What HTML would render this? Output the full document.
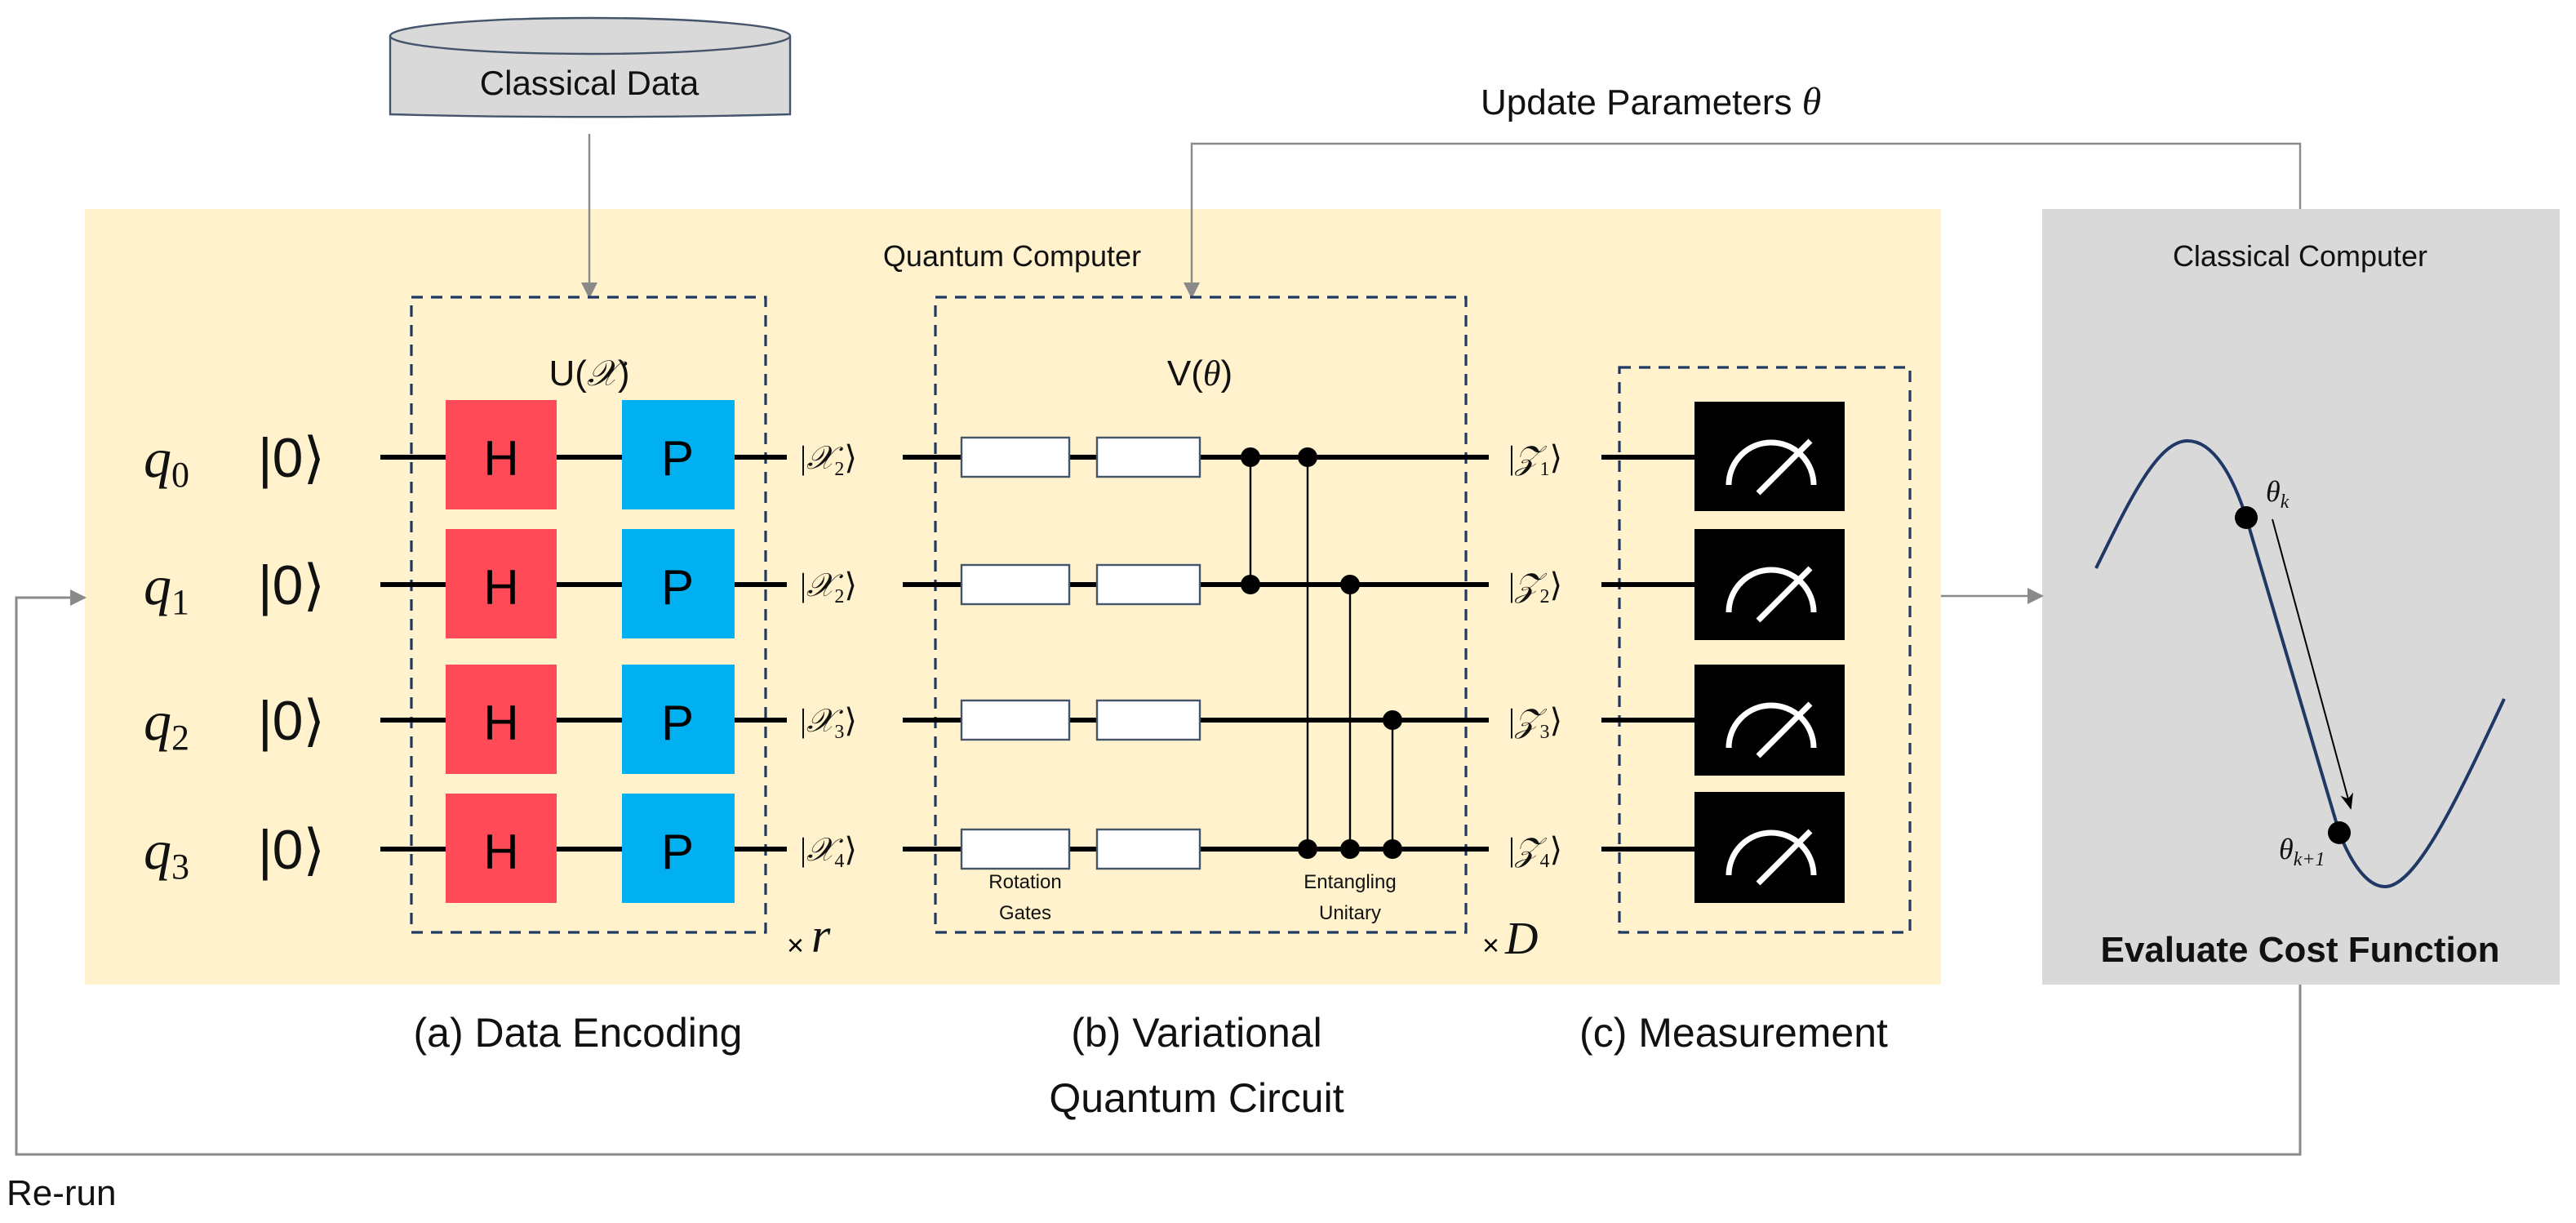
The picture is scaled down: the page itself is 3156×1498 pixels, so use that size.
<!DOCTYPE html>
<html><head><meta charset="utf-8"><style>
html,body{margin:0;padding:0;background:#fff;}
svg{display:block;}
.t{font-family:"Liberation Sans",sans-serif;fill:#111;}
.m{font-family:"Liberation Serif",serif;font-style:italic;fill:#111;}
</style></head><body>
<svg width="3156" height="1498" viewBox="0 0 1578 749" xmlns="http://www.w3.org/2000/svg">
<defs>
<marker id="ga" markerWidth="10" markerHeight="10" refX="9" refY="5" orient="auto" markerUnits="userSpaceOnUse"><path d="M0,0 L10,5 L0,10 z" fill="#8a8a8a"/></marker>
<marker id="ba" markerWidth="10" markerHeight="10" refX="9" refY="5" orient="auto" markerUnits="userSpaceOnUse"><path d="M0,1 L10,5 L0,9 L3,5 z" fill="#000"/></marker>
</defs>
<rect x="52" y="128" width="1137" height="475" fill="#FFF2CC"/>
<rect x="1251" y="128" width="317" height="475" fill="#D9D9D9"/>
<path d="M239,22 L239,70 A245,12 0 0 0 484,70 L484,22" fill="#D9D9D9" stroke="#44546A" stroke-width="1.2"/>
<ellipse cx="361.5" cy="22" rx="122.5" ry="11" fill="#D9D9D9" stroke="#44546A" stroke-width="1.2"/>
<text class="t" x="361" y="58" font-size="21" text-anchor="middle">Classical Data</text>
<line x1="361" y1="82" x2="361" y2="182" stroke="#8a8a8a" stroke-width="1.2" marker-end="url(#ga)"/>
<polyline points="1409,128 1409,88 730,88 730,182" fill="none" stroke="#8a8a8a" stroke-width="1.2" marker-end="url(#ga)"/>
<text class="t" x="907" y="70" font-size="22">Update Parameters <tspan class="m" font-size="24">θ</tspan></text>
<text class="t" x="620" y="163" font-size="18" text-anchor="middle">Quantum Computer</text>
<text class="t" x="1409" y="163" font-size="18" text-anchor="middle">Classical Computer</text>
<g fill="none" stroke="#1F3864" stroke-width="1.6" stroke-dasharray="7,5">
<rect x="252" y="182" width="217" height="389"/>
<rect x="573" y="182" width="325" height="389"/>
<rect x="992" y="225" width="178" height="346"/>
</g>
<text class="t" x="361" y="236" font-size="22" text-anchor="middle">U(<tspan class="m">𝒳</tspan>)</text>
<text class="t" x="735" y="236" font-size="22" text-anchor="middle">V(<tspan class="m">θ</tspan>)</text>
<g stroke="#000" stroke-width="3">
<line x1="233" y1="280" x2="482" y2="280"/><line x1="553" y1="280" x2="912" y2="280"/><line x1="981" y1="280" x2="1038" y2="280"/>
<line x1="233" y1="358" x2="482" y2="358"/><line x1="553" y1="358" x2="912" y2="358"/><line x1="981" y1="358" x2="1038" y2="358"/>
<line x1="233" y1="441" x2="482" y2="441"/><line x1="553" y1="441" x2="912" y2="441"/><line x1="981" y1="441" x2="1038" y2="441"/>
<line x1="233" y1="520" x2="482" y2="520"/><line x1="553" y1="520" x2="912" y2="520"/><line x1="981" y1="520" x2="1038" y2="520"/>
</g>
<g font-family="Liberation Sans,sans-serif" font-size="30" text-anchor="middle" fill="#000">
<rect x="273" y="245" width="68" height="67" fill="#FF4B57"/><rect x="381" y="245" width="69" height="67" fill="#00B0F0"/>
<rect x="273" y="324" width="68" height="67" fill="#FF4B57"/><rect x="381" y="324" width="69" height="67" fill="#00B0F0"/>
<rect x="273" y="407" width="68" height="67" fill="#FF4B57"/><rect x="381" y="407" width="69" height="67" fill="#00B0F0"/>
<rect x="273" y="486" width="68" height="67" fill="#FF4B57"/><rect x="381" y="486" width="69" height="67" fill="#00B0F0"/>
<text x="307" y="291">H</text><text x="415" y="291">P</text>
<text x="307" y="370">H</text><text x="415" y="370">P</text>
<text x="307" y="453">H</text><text x="415" y="453">P</text>
<text x="307" y="532">H</text><text x="415" y="532">P</text>
</g>
<g font-size="34">
<text class="m" x="88" y="292">q<tspan font-size="22" dy="6" font-style="normal">0</tspan></text>
<text class="m" x="88" y="370">q<tspan font-size="22" dy="6" font-style="normal">1</tspan></text>
<text class="m" x="88" y="453">q<tspan font-size="22" dy="6" font-style="normal">2</tspan></text>
<text class="m" x="88" y="532">q<tspan font-size="22" dy="6" font-style="normal">3</tspan></text>
<text class="t" x="158" y="292" font-family="Liberation Serif,serif">|0⟩</text>
<text class="t" x="158" y="370" font-family="Liberation Serif,serif">|0⟩</text>
<text class="t" x="158" y="453" font-family="Liberation Serif,serif">|0⟩</text>
<text class="t" x="158" y="532" font-family="Liberation Serif,serif">|0⟩</text>
</g>
<g font-family="Liberation Serif,serif" font-size="20" fill="#111">
<text x="490" y="287">|<tspan font-style="italic">𝒳</tspan><tspan font-size="12" dy="4">2</tspan><tspan dy="-4">⟩</tspan></text>
<text x="490" y="365">|<tspan font-style="italic">𝒳</tspan><tspan font-size="12" dy="4">2</tspan><tspan dy="-4">⟩</tspan></text>
<text x="490" y="448">|<tspan font-style="italic">𝒳</tspan><tspan font-size="12" dy="4">3</tspan><tspan dy="-4">⟩</tspan></text>
<text x="490" y="527">|<tspan font-style="italic">𝒳</tspan><tspan font-size="12" dy="4">4</tspan><tspan dy="-4">⟩</tspan></text>
<text x="924" y="287">|<tspan font-style="italic">𝒵</tspan><tspan font-size="12" dy="4">1</tspan><tspan dy="-4">⟩</tspan></text>
<text x="924" y="365">|<tspan font-style="italic">𝒵</tspan><tspan font-size="12" dy="4">2</tspan><tspan dy="-4">⟩</tspan></text>
<text x="924" y="448">|<tspan font-style="italic">𝒵</tspan><tspan font-size="12" dy="4">3</tspan><tspan dy="-4">⟩</tspan></text>
<text x="924" y="527">|<tspan font-style="italic">𝒵</tspan><tspan font-size="12" dy="4">4</tspan><tspan dy="-4">⟩</tspan></text>
</g>
<g fill="#fff" stroke="#44546A" stroke-width="1.2">
<rect x="589" y="268" width="66" height="24"/><rect x="672" y="268" width="63" height="24"/>
<rect x="589" y="346" width="66" height="24"/><rect x="672" y="346" width="63" height="24"/>
<rect x="589" y="429" width="66" height="24"/><rect x="672" y="429" width="63" height="24"/>
<rect x="589" y="508" width="66" height="24"/><rect x="672" y="508" width="63" height="24"/>
</g>
<g stroke="#000" stroke-width="1.2">
<line x1="766" y1="280" x2="766" y2="358"/><line x1="801" y1="280" x2="801" y2="520"/>
<line x1="827" y1="358" x2="827" y2="520"/><line x1="853" y1="441" x2="853" y2="520"/>
</g>
<g fill="#000">
<circle cx="766" cy="280" r="6"/><circle cx="766" cy="358" r="6"/>
<circle cx="801" cy="280" r="6"/><circle cx="801" cy="520" r="6"/>
<circle cx="827" cy="358" r="6"/><circle cx="827" cy="520" r="6"/>
<circle cx="853" cy="441" r="6"/><circle cx="853" cy="520" r="6"/>
</g>
<g class="t" font-size="12" text-anchor="middle" fill="#333">
<text x="628" y="544">Rotation</text><text x="628" y="563">Gates</text>
<text x="827" y="544">Entangling</text><text x="827" y="563">Unitary</text>
</g>
<text x="482" y="585" font-family="Liberation Sans,sans-serif" font-size="18">×</text><text class="m" x="497" y="583" font-size="30">r</text>
<text x="908" y="585" font-family="Liberation Sans,sans-serif" font-size="18">×</text><text class="m" x="922" y="584" font-size="28">D</text>
<rect x="1038" y="246" width="92" height="67" fill="#000"/>
<rect x="1038" y="324" width="92" height="68" fill="#000"/>
<rect x="1038" y="407" width="92" height="68" fill="#000"/>
<rect x="1038" y="485" width="92" height="68" fill="#000"/>
<g fill="none" stroke="#fff" stroke-width="3.5">
<path d="M1059,297 A26,26 0 0 1 1111,297"/><line x1="1077" y1="302" x2="1109" y2="270"/>
<path d="M1059,375 A26,26 0 0 1 1111,375"/><line x1="1077" y1="380" x2="1109" y2="348"/>
<path d="M1059,458 A26,26 0 0 1 1111,458"/><line x1="1077" y1="463" x2="1109" y2="431"/>
<path d="M1059,536 A26,26 0 0 1 1111,536"/><line x1="1077" y1="541" x2="1109" y2="509"/>
</g>
<line x1="1189" y1="365" x2="1251" y2="365" stroke="#8a8a8a" stroke-width="1.2" marker-end="url(#ga)"/>
<polyline points="1409,603 1409,707 10,707 10,366 52,366" fill="none" stroke="#8a8a8a" stroke-width="1.5" marker-end="url(#ga)"/>
<text class="t" x="4" y="738" font-size="22">Re-run</text>
<g class="t" font-size="25" text-anchor="middle">
<text x="354" y="641">(a) Data Encoding</text>
<text x="733" y="641">(b) Variational</text>
<text x="733" y="681">Quantum Circuit</text>
<text x="1062" y="641">(c) Measurement</text>
</g>
<path d="M1284,348 C1305,305 1322,270 1340,270 C1356,270 1368,292 1376,317 L1433,510 C1442,533 1452,543 1461,543 C1480,543 1505,490 1534,428" fill="none" stroke="#1F3864" stroke-width="2"/>
<line x1="1392" y1="318" x2="1440" y2="495" stroke="#000" stroke-width="1" marker-end="url(#ba)"/>
<circle cx="1376" cy="317" r="7" fill="#000"/>
<circle cx="1433" cy="510" r="7" fill="#000"/>
<text class="m" x="1388" y="307" font-size="18">θ<tspan font-size="12" dy="4">k</tspan></text>
<text class="m" x="1396" y="526" font-size="18">θ<tspan font-size="12" dy="4">k+1</tspan></text>
<text class="t" x="1409" y="589" font-size="22" font-weight="bold" text-anchor="middle">Evaluate Cost Function</text>
</svg>
</body></html>
